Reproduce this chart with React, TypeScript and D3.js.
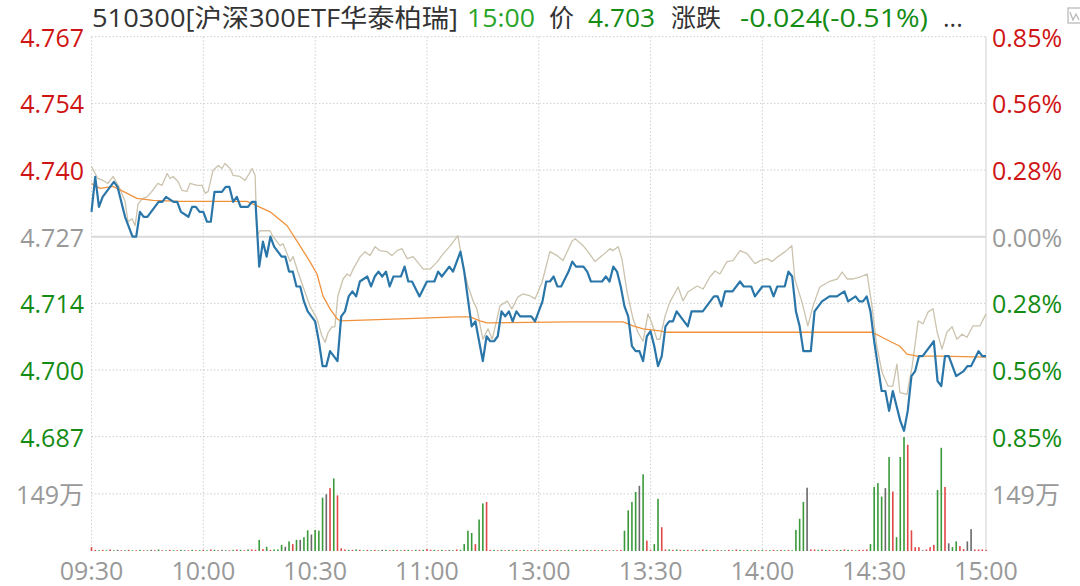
import React from 'react';
import * as d3 from 'd3';

// ---------- data ----------
const preClose = 4.727;
const maxPct = 0.0085;
const priceTickLabels = ['4.767', '4.754', '4.740', '4.727', '4.714', '4.700', '4.687'];
const pctTickLabels = ['0.85%', '0.56%', '0.28%', '0.00%', '0.28%', '0.56%', '0.85%'];
const timeLabels = ['09:30', '10:00', '10:30', '11:00', '13:00', '13:30', '14:00', '14:30', '15:00'];
const volMax = 298;
const volGridValue = 149;
const volGridLabel = '149万';

const titleName = '510300[沪深300ETF华泰柏瑞]';
const titleTime = '15:00';
const titlePriceLabel = '价';
const titlePrice = '4.703';
const titleChangeLabel = '涨跌';
const titleChange = '-0.024(-0.51%)';
const titleMore = '...';

// [minute index, price]
const pricePoints: [number, number][] = [
  [0, 4.732], [1, 4.739], [2, 4.733], [3, 4.735], [4, 4.736], [6, 4.738], [7, 4.737], [9, 4.731], [11, 4.727], [12, 4.727],
  [13, 4.732], [14, 4.731], [15, 4.731], [16, 4.732], [17, 4.733], [18, 4.734], [19, 4.734], [20, 4.735], [22, 4.734], [23, 4.734],
  [24, 4.732], [26, 4.731], [27, 4.733], [28, 4.733], [29, 4.732], [30, 4.732], [31, 4.730], [32, 4.730], [33, 4.736], [34, 4.736],
  [35, 4.736], [36, 4.737], [37, 4.737], [38, 4.734], [39, 4.735], [40, 4.733], [42, 4.733], [43, 4.734], [44, 4.734], [45, 4.721],
  [46, 4.726], [47, 4.723], [48, 4.727], [49, 4.725], [50, 4.724], [51, 4.723], [52, 4.723], [53, 4.720], [54, 4.720], [55, 4.717],
  [56, 4.717], [57, 4.714], [58, 4.712], [59, 4.711], [60, 4.710], [61, 4.706], [62, 4.701], [63, 4.701], [64, 4.704], [65, 4.703],
  [66, 4.702], [67, 4.711], [68, 4.712], [69, 4.715], [70, 4.716], [71, 4.715], [72, 4.718], [74, 4.719], [75, 4.717], [76, 4.719],
  [77, 4.720], [78, 4.719], [79, 4.720], [80, 4.717], [81, 4.719], [83, 4.719], [84, 4.721], [85, 4.718], [86, 4.718], [88, 4.715],
  [90, 4.718], [92, 4.718], [93, 4.720], [94, 4.719], [96, 4.721], [97, 4.720], [99, 4.724], [100, 4.720], [102, 4.709], [103, 4.710],
  [104, 4.706], [105, 4.702], [106, 4.707], [107, 4.706], [108, 4.706], [109, 4.707], [110, 4.712], [111, 4.711], [112, 4.712], [113, 4.710],
  [114, 4.712], [115, 4.711], [116, 4.711], [118, 4.711], [119, 4.710], [120, 4.712],
  [121, 4.714], [122, 4.718], [123, 4.718], [124, 4.719], [125, 4.717], [126, 4.717], [128, 4.720], [129, 4.722], [130, 4.721], [132, 4.721],
  [133, 4.720], [134, 4.718], [137, 4.718], [138, 4.719], [139, 4.718], [140, 4.721], [141, 4.720], [142, 4.717], [143, 4.713], [144, 4.711],
  [145, 4.705], [146, 4.704], [147, 4.704], [148, 4.702], [149, 4.707], [150, 4.708], [151, 4.705], [152, 4.701], [153, 4.703], [154, 4.709],
  [155, 4.710], [156, 4.710], [157, 4.712], [158, 4.711], [159, 4.710], [160, 4.709], [161, 4.712], [163, 4.712], [164, 4.712], [166, 4.714],
  [167, 4.715], [168, 4.715], [169, 4.713], [170, 4.716], [172, 4.716], [174, 4.718], [175, 4.717], [177, 4.717], [178, 4.715], [180, 4.717],
  [182, 4.717], [183, 4.715], [184, 4.717], [186, 4.717], [187, 4.720], [188, 4.719], [189, 4.712], [190, 4.709], [191, 4.704], [193, 4.704],
  [194, 4.712], [195, 4.713], [196, 4.714], [198, 4.715], [199, 4.715], [200, 4.715], [202, 4.716], [203, 4.714], [205, 4.715], [206, 4.714],
  [207, 4.714], [208, 4.715], [209, 4.712], [210, 4.706], [211, 4.701], [212, 4.696], [213, 4.696], [214, 4.692], [215, 4.696], [216, 4.693],
  [217, 4.690], [218, 4.688], [219, 4.692], [220, 4.699], [221, 4.700], [222, 4.703], [223, 4.703], [226, 4.706], [227, 4.698], [228, 4.697],
  [229, 4.703], [230, 4.703], [232, 4.699], [234, 4.700], [235, 4.701], [236, 4.701], [238, 4.704], [239, 4.703], [240, 4.703],
];

// reference index line, expressed on the price axis: [minute, value]
const indexPoints: [number, number][] = [
  [0, 4.7411], [1.7, 4.7387], [3.1, 4.7383], [4.4, 4.7377], [5.8, 4.7391], [7.6, 4.7367], [9.0, 4.7341], [9.8, 4.7300], [10.9, 4.7306], [11.7, 4.7292],
  [12.5, 4.7336], [13.6, 4.7346], [14.9, 4.7350], [16.2, 4.7361], [17.8, 4.7377], [18.9, 4.7373], [20.3, 4.7397], [21.1, 4.7387], [21.9, 4.7391], [23.2, 4.7381],
  [24.3, 4.7363], [25.6, 4.7361], [26.4, 4.7377], [28.3, 4.7373], [29.7, 4.7373], [30.5, 4.7357], [31.3, 4.7361], [32.6, 4.7403], [34.0, 4.7413], [35.0, 4.7407],
  [35.8, 4.7417], [37.2, 4.7407], [38.0, 4.7393], [39.8, 4.7391], [41.2, 4.7383], [42.0, 4.7393], [43.1, 4.7407], [43.9, 4.7393], [44.4, 4.7272], [45.2, 4.7282],
  [47.9, 4.7282], [48.7, 4.7270], [50.6, 4.7252], [51.4, 4.7256], [53.3, 4.7220], [54.1, 4.7230], [55.4, 4.7199], [56.7, 4.7171], [58.6, 4.7131], [60.5, 4.7105],
  [61.8, 4.7071], [62.7, 4.7058], [63.5, 4.7078], [64.5, 4.7089], [65.3, 4.7089], [66.1, 4.7151], [67.5, 4.7185], [68.6, 4.7195], [69.4, 4.7191], [70.2, 4.7205],
  [72.1, 4.7230], [73.4, 4.7240], [74.7, 4.7232], [76.1, 4.7250], [77.4, 4.7242], [79.3, 4.7240], [80.6, 4.7232], [82.0, 4.7242], [83.3, 4.7246], [84.7, 4.7226],
  [86.3, 4.7230], [89.0, 4.7205], [90.9, 4.7205], [92.8, 4.7220], [94.4, 4.7236], [96.3, 4.7252], [98.3, 4.7272], [99.7, 4.7212], [101.0, 4.7171], [102.4, 4.7141],
  [103.4, 4.7125], [105.0, 4.7064], [106.4, 4.7085], [107.5, 4.7064], [108.8, 4.7105], [109.6, 4.7131], [111.5, 4.7141], [112.8, 4.7125], [114.4, 4.7149], [115.8, 4.7155],
  [117.7, 4.7151], [119.0, 4.7145], [120.9, 4.7179], [123.0, 4.7240], [124.9, 4.7232], [126.5, 4.7222], [129.0, 4.7262], [129.8, 4.7266], [131.9, 4.7252], [133.2, 4.7240],
  [135.1, 4.7220], [137.0, 4.7232], [139.1, 4.7246], [139.9, 4.7242], [141.3, 4.7250], [142.3, 4.7226], [143.7, 4.7159], [145.3, 4.7105], [146.6, 4.7078], [148.0, 4.7060],
  [149.3, 4.7115], [150.4, 4.7095], [151.7, 4.7064], [152.5, 4.7064], [153.9, 4.7111], [155.2, 4.7139], [157.4, 4.7169], [158.7, 4.7141], [160.0, 4.7159], [162.5, 4.7171],
  [164.1, 4.7165], [165.9, 4.7189], [167.3, 4.7201], [168.6, 4.7195], [170.5, 4.7220], [172.1, 4.7222], [174.0, 4.7242], [175.9, 4.7236], [178.0, 4.7216], [179.4, 4.7222],
  [181.3, 4.7226], [182.6, 4.7220], [184.2, 4.7230], [186.1, 4.7240], [187.9, 4.7252], [188.7, 4.7185], [190.6, 4.7139], [192.2, 4.7091], [193.6, 4.7131], [195.4, 4.7169],
  [196.8, 4.7175], [198.2, 4.7181], [200.1, 4.7185], [201.4, 4.7199], [202.8, 4.7185], [204.1, 4.7185], [206.2, 4.7189], [208.1, 4.7195], [209.4, 4.7131], [210.7, 4.7050],
  [212.1, 4.6998], [213.7, 4.6970], [215.0, 4.6970], [216.1, 4.7014], [216.9, 4.6957], [218.8, 4.6953], [220.2, 4.7010], [221.8, 4.7101], [223.1, 4.7095], [224.5, 4.7119],
  [225.8, 4.7125], [226.9, 4.7078], [228.2, 4.7044], [229.5, 4.7078], [230.9, 4.7089], [232.2, 4.7064], [233.6, 4.7074], [234.9, 4.7068], [236.5, 4.7091], [238.4, 4.7091],
  [240, 4.7115],
];

// average price line: [minute, value]
const avgPoints: [number, number][] = [
  [0, 4.7377], [2.3, 4.7367], [5.8, 4.7371], [8.5, 4.7361], [12.2, 4.7347], [16.5, 4.7343], [23.7, 4.7341], [32.6, 4.7341], [41.7, 4.7341], [44.4, 4.7332],
  [47.9, 4.7320], [52.5, 4.7292], [55.9, 4.7252], [58.6, 4.7220], [60.5, 4.7195], [62.1, 4.7151], [64.0, 4.7125], [65.9, 4.7105], [66.7, 4.7101], [82.8, 4.7105],
  [98.1, 4.7109], [101.6, 4.7109], [104.2, 4.7101], [106.1, 4.7097], [128.7, 4.7099], [142.6, 4.7099], [145.3, 4.7091], [148.0, 4.7085], [152.5, 4.7081], [154.4, 4.7078],
  [209.4, 4.7078], [211.6, 4.7070], [214.2, 4.7060], [216.9, 4.7050], [218.8, 4.7034], [221.5, 4.7030], [227.7, 4.7030], [240, 4.7028],
];

// volume per minute (万), 241 minutes
const volumes = [
  10, 3, 2, 3, 2, 4, 2, 3, 2, 2,
  3, 2, 2, 3, 2, 2, 3, 2, 4, 2,
  2, 3, 2, 2, 3, 2, 2, 3, 2, 2,
  3, 2, 4, 3, 2, 3, 2, 2, 3, 4,
  3, 2, 4, 4, 3, 29, 5, 11, 3, 4,
  4, 16, 11, 25, 18, 29, 29, 36, 54, 43,
  55, 53, 139, 148, 164, 189, 145, 7, 4, 3,
  3, 4, 3, 2, 3, 2, 3, 2, 3, 3,
  2, 3, 3, 2, 3, 3, 2, 3, 3, 3,
  5, 3, 3, 2, 3, 2, 3, 2, 4, 3,
  18, 53, 47, 18, 82, 124, 128, 3, 3, 2,
  3, 2, 3, 2, 3, 2, 3, 2, 2, 3,
  2, 3, 2, 3, 2, 3, 2, 2, 3, 2,
  3, 2, 3, 3, 2, 3, 2, 3, 2, 2,
  2, 2, 3, 53, 106, 128, 154, 170, 200, 27,
  3, 18, 136, 62, 4, 4, 3, 4, 3, 3,
  3, 2, 3, 2, 4, 3, 2, 3, 3, 2,
  2, 3, 2, 4, 3, 2, 3, 2, 3, 2,
  3, 2, 2, 3, 2, 3, 2, 3, 2, 55,
  84, 128, 165, 4, 4, 3, 4, 3, 3, 2,
  3, 3, 4, 3, 3, 2, 3, 3, 4, 18,
  167, 177, 142, 164, 245, 155, 36, 245, 297, 277,
  54, 10, 10, 2, 4, 10, 16, 159, 269, 167,
  20, 10, 25, 13, 5, 25, 57, 4, 4, 4, 3,
];

// direction per minute: r = up, g = down, n = flat
const volDirs = (
  'rrgrgrgnrg' + 'rgrgrgnrgr' + 'grgrgnrgrg' + 'rgrgrngrgr' + 'grgrrgrgrg' +
  'ggngrgnggn' + 'gggnrgrrrg' + 'rgrgrgrgng' + 'rgrgrgrgrg' + 'rrgrgrngrg' +
  'gggrggrrgr' + 'grgrgrgrgr' + 'grgrgrgrgr' + 'grgrgrgrgr' + 'grrggggngr' +
  'rggrrgrgrg' + 'rgrgrgrgrn' + 'grgrgrgrgr' + 'grgrgrgrgg' + 'ggnrrgrgrg' +
  'rgrgrgrrrg' + 'gggngrgggr' + 'rrrnrrrggr' + 'nggrrnnrrrr'
);

// ---------- layout / style ----------
const W = 1080;
const H = 586;
const LEFT = 91.5;
const RIGHT = 986;
const TOP = 36.7;
const PRICE_BOTTOM = 436.7;
const VOL_BOTTOM = 551;
const RED = '#cf1414';
const GREEN = '#148c14';
const GRAY = '#999999';
const DARK = '#333333';
const GRID = '#cfcfcf';
const FONT = "'Open Sans', 'Noto Sans CJK SC', sans-serif";

export default function App() {
  const x = d3.scaleLinear().domain([0, 240]).range([LEFT, RIGHT]);
  const y = d3
    .scaleLinear()
    .domain([preClose * (1 - maxPct), preClose * (1 + maxPct)])
    .range([PRICE_BOTTOM, TOP]);
  const yv = d3.scaleLinear().domain([0, volMax]).range([VOL_BOTTOM, PRICE_BOTTOM]);

  const line = d3
    .line<[number, number]>()
    .x((d) => x(d[0]))
    .y((d) => y(d[1]));

  const tickValues = d3.range(3, -4, -1).map((k) => preClose * (1 + (k * maxPct) / 3));
  const tickColor = (i: number) => (i < 3 ? RED : i === 3 ? GRAY : GREEN);

  const dirColor: Record<string, string> = { r: '#e24848', g: '#3a9a3a', n: '#6a6a6a' };
  const TITLE_Y = 27;

  return (
    <svg
      width={W}
      height={H}
      viewBox={`0 0 ${W} ${H}`}
      style={{ position: 'absolute', left: 0, top: 0, background: '#fff', fontFamily: FONT }}
    >
      <rect x={0} y={0} width={W} height={H} fill="#fff" />

      {/* horizontal grid */}
      {tickValues.map((v, i) =>
        i === 3 ? (
          <line key={i} x1={LEFT} x2={RIGHT} y1={y(v)} y2={y(v)} stroke="#dadada" strokeWidth={2} />
        ) : (
          <line key={i} x1={LEFT} x2={RIGHT} y1={y(v)} y2={y(v)} stroke={GRID} strokeWidth={1} strokeDasharray="1.5,2" />
        )
      )}
      <line x1={LEFT} x2={RIGHT} y1={yv(volGridValue)} y2={yv(volGridValue)} stroke={GRID} strokeWidth={1} strokeDasharray="1.5,2" />

      {/* vertical grid */}
      {timeLabels.map((_, i) => {
        const xx = x(i * 30);
        if (i === timeLabels.length - 1) {
          return <line key={i} x1={xx} x2={xx} y1={TOP} y2={VOL_BOTTOM} stroke="#d8d8d8" strokeWidth={1.2} />;
        }
        return (
          <line key={i} x1={xx} x2={xx} y1={TOP} y2={VOL_BOTTOM} stroke={GRID} strokeWidth={1} strokeDasharray="1.5,2" />
        );
      })}

      {/* volume bars */}
      {volumes.map((v, i) => (
        <rect
          key={i}
          x={x(i) - 0.8}
          y={yv(v)}
          width={1.6}
          height={Math.max(0.8, VOL_BOTTOM - yv(v))}
          fill={dirColor[volDirs[i]] || '#6a6a6a'}
        />
      ))}

      {/* lines */}
      <path d={line(indexPoints) || ''} fill="none" stroke="#cbc3ad" strokeWidth={1.3} strokeLinejoin="round" />
      <path d={line(avgPoints) || ''} fill="none" stroke="#f0923c" strokeWidth={1.3} strokeLinejoin="round" />
      <path d={line(pricePoints) || ''} fill="none" stroke="#2a76a9" strokeWidth={2.2} strokeLinejoin="round" />

      {/* left axis labels */}
      {tickValues.map((v, i) => (
        <text key={i} x={84} y={y(v)} textAnchor="end" dominantBaseline="central" fontSize={25} fill={tickColor(i)}>
          {priceTickLabels[i]}
        </text>
      ))}
      {/* right axis labels */}
      {tickValues.map((v, i) => (
        <text key={i} x={992} y={y(v)} textAnchor="start" dominantBaseline="central" fontSize={25} fill={tickColor(i)}>
          {pctTickLabels[i]}
        </text>
      ))}
      <text x={84} y={yv(volGridValue)} textAnchor="end" dominantBaseline="central" fontSize={25} fill={GRAY}>
        {volGridLabel}
      </text>
      <text x={992} y={yv(volGridValue)} textAnchor="start" dominantBaseline="central" fontSize={25} fill={GRAY}>
        {volGridLabel}
      </text>

      {/* time axis labels */}
      {timeLabels.map((t, i) => (
        <text key={t} x={x(i * 30)} y={570} textAnchor="middle" dominantBaseline="central" fontSize={25} fill={GRAY}>
          {t}
        </text>
      ))}

      {/* title */}
      <g fontSize={25}>
        <text x={92} y={TITLE_Y} fill={DARK} textLength={366} lengthAdjust="spacingAndGlyphs">{titleName}</text>
        <text x={467} y={TITLE_Y} fill="#2aa52a" textLength={68} lengthAdjust="spacingAndGlyphs">{titleTime}</text>
        <text x={549} y={TITLE_Y} fill={DARK}>{titlePriceLabel}</text>
        <text x={588} y={TITLE_Y} fill={GREEN} textLength={67} lengthAdjust="spacingAndGlyphs">{titlePrice}</text>
        <text x={671} y={TITLE_Y} fill={DARK}>{titleChangeLabel}</text>
        <text x={740} y={TITLE_Y} fill={GREEN} textLength={188} lengthAdjust="spacingAndGlyphs">{titleChange}</text>
        <text x={943} y={TITLE_Y} fill={DARK}>{titleMore}</text>
      </g>

      {/* small icon at top right */}
      <g stroke="#b5b5b5" strokeWidth={1.2} fill="none">
        <rect x={1068} y={8} width={16} height={15} />
        <path d="M1070 12 l3 8 l3 -6 l3 6" />
      </g>
    </svg>
  );
}
